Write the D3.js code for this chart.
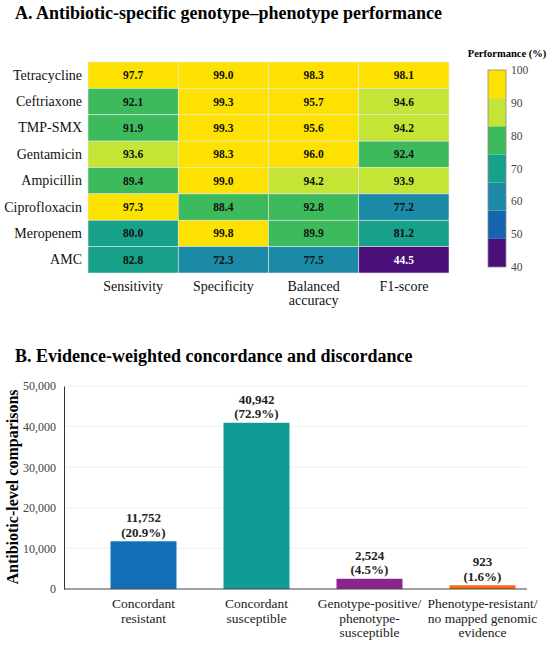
<!DOCTYPE html>
<html>
<head>
<meta charset="utf-8">
<script src="https://cdn.jsdelivr.net/npm/d3@7"></script>
<style>
  body { margin: 0; background: #fff; }
</style>
</head>
<body>
<div class="js-chart"></div>
<script>
// panel A data
var antibiotics = ['Tetracycline', 'Ceftriaxone', 'TMP-SMX', 'Gentamicin', 'Ampicillin', 'Ciprofloxacin', 'Meropenem', 'AMC'];
var metrics = ['Sensitivity', 'Specificity', 'Balanced accuracy', 'F1-score'];
var metricLines = [['Sensitivity'], ['Specificity'], ['Balanced', 'accuracy'], ['F1-score']];
var sensitivity = [97.7, 92.1, 91.9, 93.6, 89.4, 97.3, 80.0, 82.8];
var specificity = [99.0, 99.3, 99.3, 98.3, 99.0, 88.4, 99.8, 72.3];
var balancedAccuracy = [98.3, 95.7, 95.6, 96.0, 94.2, 92.8, 89.9, 77.5];
var f1Score = [98.1, 94.6, 94.2, 92.4, 93.9, 77.2, 81.2, 44.5];
var legendTicks = [40, 50, 60, 70, 80, 90, 100];

// panel B data
var outcomes = ['Concordant resistant', 'Concordant susceptible', 'Genotype-positive/phenotype-susceptible', 'Phenotype-resistant/no mapped genomic evidence'];
var outcomeLines = [['Concordant', 'resistant'], ['Concordant', 'susceptible'], ['Genotype-positive/', 'phenotype-', 'susceptible'], ['Phenotype-resistant/', 'no mapped genomic', 'evidence']];
var comparisons = [11752, 40942, 2524, 923];
var shares = ['20.9%', '72.9%', '4.5%', '1.6%'];
var yTicks = [0, 10000, 20000, 30000, 40000, 50000];

var palette = ['#4a0e78', '#1665b0', '#1b8aa6', '#17a08a', '#3dbb5c', '#c4e436', '#fde100'];
var barColors = ['#1170b7', '#119b96', '#8c2490', '#fb6a10'];

var FONT = "'Liberation Serif'";

var svg = d3.select('.js-chart')
    .append('svg')
    .attr('width', 550)
    .attr('height', 646);

// ---------- A. heatmap ----------
svg.append('text')
    .attr('x', 15)
    .attr('y', 19)
    .attr('font-family', FONT)
    .attr('font-size', 18)
    .attr('font-weight', 'bold')
    .text('A. Antibiotic-specific genotype\u2013phenotype performance');

var cells = [];
var columns = [sensitivity, specificity, balancedAccuracy, f1Score];
antibiotics.forEach(function(a, i) {
    metrics.forEach(function(m, j) {
        cells.push({ antibiotic: a, metric: m, value: columns[j][i] });
    });
});

var x = d3.scaleBand().domain(metrics).range([88, 449]);
var y = d3.scaleBand().domain(antibiotics).range([62, 273]);

// cell colours follow the published binning, not an even split of the legend
var color = d3.scaleThreshold()
    .domain([55, 65, 79, 85, 93.3, 95.3])
    .range(palette);

var heat = svg.append('g');

heat.selectAll('rect')
    .data(cells)
    .enter()
    .append('rect')
        .attr('x', function(d) { return x(d.metric); })
        .attr('y', function(d) { return y(d.antibiotic); })
        .attr('width', x.bandwidth())
        .attr('height', y.bandwidth())
        .attr('fill', function(d) { return color(d.value); })
        .attr('stroke', '#e6e6e6')
        .attr('stroke-width', 0.6);

heat.selectAll('text')
    .data(cells)
    .enter()
    .append('text')
        .attr('x', function(d) { return x(d.metric) + x.bandwidth() / 2; })
        .attr('y', function(d) { return y(d.antibiotic) + y.bandwidth() / 2 + 4; })
        .attr('text-anchor', 'middle')
        .attr('font-family', FONT)
        .attr('font-size', 11.5)
        .attr('font-weight', 'bold')
        .attr('fill', function(d) { return d.value < 55 ? '#fff' : '#111'; })
        .text(function(d) { return d.value.toFixed(1); });

svg.append('g').selectAll('text')
    .data(antibiotics)
    .enter()
    .append('text')
        .attr('x', 82)
        .attr('y', function(d) { return y(d) + y.bandwidth() / 2 + 4.5; })
        .attr('text-anchor', 'end')
        .attr('font-family', FONT)
        .attr('font-size', 14)
        .attr('fill', '#111')
        .text(function(d) { return d; });

var colLabels = svg.append('g').selectAll('text')
    .data(metrics)
    .enter()
    .append('text')
        .attr('text-anchor', 'middle')
        .attr('y', 291)
        .attr('font-family', FONT)
        .attr('font-size', 14)
        .attr('fill', '#111');

colLabels.each(function(d, i) {
    var t = d3.select(this);
    metricLines[i].forEach(function(line, k) {
        t.append('tspan')
            .attr('x', x(d) + x.bandwidth() / 2)
            .attr('dy', k === 0 ? 0 : 14)
            .text(line);
    });
});

// colour legend
var legendY = d3.scaleLinear().domain([40, 100]).range([267, 70]);
var bandEdges = d3.range(palette.length + 1).map(function(i) { return 40 + i * 60 / palette.length; });

var legend = svg.append('g');

legend.selectAll('rect')
    .data(palette)
    .enter()
    .append('rect')
        .attr('x', 488)
        .attr('width', 18)
        .attr('y', function(d, i) { return legendY(bandEdges[i + 1]); })
        .attr('height', function(d, i) { return legendY(bandEdges[i]) - legendY(bandEdges[i + 1]); })
        .attr('fill', function(d) { return d; });

legend.append('rect')
    .attr('x', 488)
    .attr('y', legendY(100))
    .attr('width', 18)
    .attr('height', legendY(40) - legendY(100))
    .attr('fill', 'none')
    .attr('stroke', '#8a8a8a')
    .attr('stroke-width', 0.8);

legend.selectAll('text.tick')
    .data(legendTicks)
    .enter()
    .append('text')
        .attr('class', 'tick')
        .attr('x', 511)
        .attr('y', function(d) { return legendY(d) + 4; })
        .attr('font-family', FONT)
        .attr('font-size', 11.5)
        .attr('fill', '#444')
        .text(function(d) { return d; });

legend.append('text')
    .attr('x', 507)
    .attr('y', 57)
    .attr('text-anchor', 'middle')
    .attr('font-family', FONT)
    .attr('font-size', 10.5)
    .attr('font-weight', 'bold')
    .text('Performance (%)');

// ---------- B. bar chart ----------
svg.append('text')
    .attr('x', 15)
    .attr('y', 362)
    .attr('font-family', FONT)
    .attr('font-size', 18)
    .attr('font-weight', 'bold')
    .text('B. Evidence-weighted concordance and discordance');

var bx = d3.scaleBand()
    .domain(outcomes)
    .range([87, 539])
    .paddingInner(0.416)
    .paddingOuter(0.208);

var by = d3.scaleLinear().domain([0, 50000]).range([589, 386]);

var bars = svg.append('g');

bars.selectAll('line.grid')
    .data(yTicks.slice(1))
    .enter()
    .append('line')
        .attr('class', 'grid')
        .attr('x1', 64)
        .attr('x2', 527)
        .attr('y1', function(d) { return by(d); })
        .attr('y2', function(d) { return by(d); })
        .attr('stroke', '#ececec')
        .attr('stroke-width', 0.8);

var yAxis = bars.append('g')
    .attr('transform', 'translate(64,0)')
    .call(d3.axisLeft(by).tickValues(yTicks).tickFormat(d3.format(',')).tickSize(0).tickPadding(8));
yAxis.attr('font-family', FONT).attr('font-size', 12);
yAxis.select('.domain').attr('stroke', '#333').attr('stroke-width', 1);
yAxis.selectAll('text').attr('fill', '#444').attr('font-family', FONT);

bars.selectAll('rect')
    .data(comparisons)
    .enter()
    .append('rect')
        .attr('x', function(d, i) { return bx(outcomes[i]); })
        .attr('y', function(d) { return by(d); })
        .attr('width', bx.bandwidth())
        .attr('height', function(d) { return by(0) - by(d); })
        .attr('fill', function(d, i) { return barColors[i]; });

bars.append('line')
    .attr('x1', 64)
    .attr('x2', 527)
    .attr('y1', by(0))
    .attr('y2', by(0))
    .attr('stroke', '#444')
    .attr('stroke-width', 1.2);

var valueLabels = bars.selectAll('text.value')
    .data(comparisons)
    .enter()
    .append('text')
        .attr('class', 'value')
        .attr('text-anchor', 'middle')
        .attr('y', function(d) { return by(d) - 19; })
        .attr('font-family', FONT)
        .attr('font-size', 13)
        .attr('font-weight', 'bold')
        .attr('fill', '#222');

valueLabels.each(function(d, i) {
    var t = d3.select(this);
    var cx = bx(outcomes[i]) + bx.bandwidth() / 2;
    t.append('tspan').attr('x', cx).attr('dy', 0).text(d3.format(',')(d));
    t.append('tspan').attr('x', cx).attr('dy', 14.5).text('(' + shares[i] + ')');
});

var catLabels = bars.selectAll('text.cat')
    .data(outcomes)
    .enter()
    .append('text')
        .attr('class', 'cat')
        .attr('text-anchor', 'middle')
        .attr('y', 608)
        .attr('font-family', FONT)
        .attr('font-size', 13.5)
        .attr('fill', '#222');

catLabels.each(function(d, i) {
    var t = d3.select(this);
    outcomeLines[i].forEach(function(line, k) {
        t.append('tspan')
            .attr('x', bx(d) + bx.bandwidth() / 2)
            .attr('dy', k === 0 ? 0 : 14.5)
            .text(line);
    });
});

svg.append('text')
    .attr('transform', 'translate(18,487) rotate(-90)')
    .attr('text-anchor', 'middle')
    .attr('font-family', FONT)
    .attr('font-size', 16)
    .attr('font-weight', 'bold')
    .text('Antibiotic-level comparisons');
</script>
</body>
</html>
